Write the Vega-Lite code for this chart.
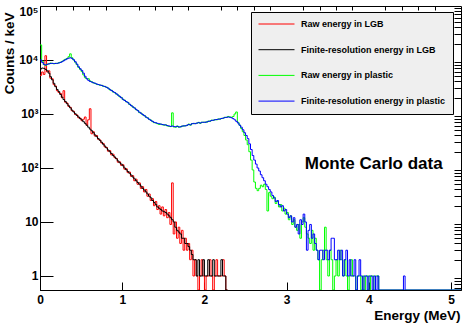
{
  "$schema": "https://vega.github.io/schema/vega-lite/v6.json",
  "width": 421,
  "height": 284,
  "autosize": {"type": "none"},
  "padding": {"left": 40, "top": 6, "right": 2, "bottom": 35},
  "background": "white",
  "config": {
    "font": "Liberation Sans",
    "view": {"stroke": "black", "strokeWidth": 1},
    "axis": {"grid": false, "domainColor": "black", "tickColor": "black", "labelColor": "black", "titleColor": "black", "labelFont": "Liberation Sans", "titleFont": "Liberation Sans", "labelFontWeight": "bold", "titleFontWeight": "bold"},
    "legend": {
      "orient": "none", "legendX": 211, "legendY": 6, "direction": "vertical",
      "fillColor": "#efefef", "strokeColor": "black", "strokeWidth": 1, "padding": 7,
      "symbolType": "stroke", "symbolSize": 1296, "symbolStrokeWidth": 1, "clipHeight": 10,
      "rowPadding": 15.7, "labelOffset": 6, "labelFont": "Liberation Sans", "labelFontSize": 9,
      "labelFontWeight": "bold", "labelColor": "black", "title": null, "labelLimit": 300
    }
  },
  "data": {"values": [
    {"E":0.00,"r":5200,"k":6800,"g":19000,"b":10000},
    {"E":0.02,"r":6000,"k":7100,"g":9500,"b":9000},
    {"E":0.04,"r":5400,"k":7000,"g":8200,"b":8300},
    {"E":0.06,"r":12000,"k":6700,"g":7900,"b":8100},
    {"E":0.08,"r":6000,"k":6300,"g":8400,"b":8300},
    {"E":0.10,"r":6300,"k":5700,"g":8500,"b":8500},
    {"E":0.12,"r":4600,"k":4900,"g":8800,"b":8600},
    {"E":0.14,"r":4500,"k":4300,"g":8600,"b":8700},
    {"E":0.16,"r":3500,"k":3700,"g":8500,"b":8600},
    {"E":0.18,"r":3300,"k":3200,"g":8700,"b":8600},
    {"E":0.20,"r":2700,"k":2850,"g":8600,"b":8700},
    {"E":0.22,"r":2500,"k":2600,"g":8900,"b":8800},
    {"E":0.24,"r":2400,"k":2300,"g":9100,"b":9000},
    {"E":0.26,"r":2000,"k":2050,"g":9400,"b":9300},
    {"E":0.28,"r":2700,"k":1850,"g":9900,"b":9700},
    {"E":0.30,"r":1650,"k":1700,"g":10300,"b":10100},
    {"E":0.32,"r":1600,"k":1550,"g":10700,"b":10500},
    {"E":0.34,"r":1380,"k":1420,"g":11500,"b":10800},
    {"E":0.36,"r":1330,"k":1300,"g":13000,"b":11000},
    {"E":0.38,"r":1150,"k":1180,"g":11000,"b":10700},
    {"E":0.40,"r":1120,"k":1090,"g":10000,"b":10100},
    {"E":0.42,"r":980,"k":1010,"g":9100,"b":9300},
    {"E":0.44,"r":960,"k":940,"g":8200,"b":8400},
    {"E":0.46,"r":850,"k":880,"g":7300,"b":7500},
    {"E":0.48,"r":840,"k":820,"g":6700,"b":6900},
    {"E":0.50,"r":750,"k":775,"g":6100,"b":6400},
    {"E":0.52,"r":800,"k":720,"g":5300,"b":5700},
    {"E":0.54,"r":880,"k":670,"g":4700,"b":5000},
    {"E":0.56,"r":620,"k":620,"g":4500,"b":4500},
    {"E":0.58,"r":780,"k":570,"g":4500,"b":4200},
    {"E":0.60,"r":1250,"k":525,"g":4100,"b":4000},
    {"E":0.62,"r":430,"k":490,"g":3950,"b":3900},
    {"E":0.64,"r":470,"k":450,"g":3750,"b":3800},
    {"E":0.66,"r":390,"k":410,"g":3700,"b":3700},
    {"E":0.68,"r":400,"k":380,"g":3550,"b":3600},
    {"E":0.70,"r":340,"k":350,"g":3520,"b":3500},
    {"E":0.72,"r":330,"k":325,"g":3400,"b":3450},
    {"E":0.74,"r":290,"k":300,"g":3400,"b":3380},
    {"E":0.76,"r":285,"k":275,"g":3250,"b":3300},
    {"E":0.78,"r":245,"k":255,"g":3250,"b":3220},
    {"E":0.80,"r":240,"k":235,"g":3100,"b":3130},
    {"E":0.82,"r":205,"k":215,"g":3020,"b":3000},
    {"E":0.84,"r":210,"k":200,"g":2800,"b":2850},
    {"E":0.86,"r":175,"k":185,"g":2750,"b":2720},
    {"E":0.88,"r":180,"k":170,"g":2550,"b":2600},
    {"E":0.90,"r":155,"k":160,"g":2500,"b":2480},
    {"E":0.92,"r":150,"k":148,"g":2330,"b":2370},
    {"E":0.94,"r":128,"k":135,"g":2250,"b":2230},
    {"E":0.96,"r":130,"k":125,"g":2080,"b":2120},
    {"E":0.98,"r":112,"k":118,"g":2030,"b":2000},
    {"E":1.00,"r":115,"k":110,"g":1850,"b":1880},
    {"E":1.02,"r":95,"k":100,"g":1800,"b":1780},
    {"E":1.04,"r":97,"k":93,"g":1680,"b":1700},
    {"E":1.06,"r":82,"k":86,"g":1640,"b":1620},
    {"E":1.08,"r":84,"k":80,"g":1500,"b":1520},
    {"E":1.10,"r":70,"k":74,"g":1450,"b":1430},
    {"E":1.12,"r":72,"k":68,"g":1340,"b":1360},
    {"E":1.14,"r":58,"k":63,"g":1300,"b":1290},
    {"E":1.16,"r":62,"k":58,"g":1200,"b":1220},
    {"E":1.18,"r":50,"k":54,"g":1160,"b":1150},
    {"E":1.20,"r":53,"k":50,"g":1060,"b":1080},
    {"E":1.22,"r":42,"k":46,"g":1040,"b":1030},
    {"E":1.24,"r":45,"k":42,"g":960,"b":980},
    {"E":1.26,"r":36,"k":39,"g":940,"b":930},
    {"E":1.28,"r":40,"k":36,"g":870,"b":880},
    {"E":1.30,"r":30,"k":33,"g":850,"b":840},
    {"E":1.32,"r":33,"k":30,"g":790,"b":800},
    {"E":1.34,"r":25,"k":28,"g":770,"b":760},
    {"E":1.36,"r":27,"k":25,"g":720,"b":730},
    {"E":1.38,"r":20,"k":23,"g":690,"b":700},
    {"E":1.40,"r":24,"k":21,"g":680,"b":690},
    {"E":1.42,"r":17,"k":19,"g":660,"b":670},
    {"E":1.44,"r":20,"k":18,"g":640,"b":660},
    {"E":1.46,"r":14,"k":17,"g":650,"b":650},
    {"E":1.48,"r":19,"k":16,"g":630,"b":640},
    {"E":1.50,"r":13,"k":15.5,"g":620,"b":630},
    {"E":1.52,"r":17,"k":15,"g":630,"b":625},
    {"E":1.54,"r":12,"k":14,"g":600,"b":610},
    {"E":1.56,"r":15,"k":13,"g":590,"b":600},
    {"E":1.58,"r":9,"k":12,"g":585,"b":590},
    {"E":1.60,"r":53,"k":11,"g":1050,"b":600},
    {"E":1.62,"r":6,"k":10,"g":575,"b":585},
    {"E":1.64,"r":10,"k":8,"g":570,"b":580},
    {"E":1.66,"r":5,"k":7,"g":600,"b":590},
    {"E":1.68,"r":8,"k":6.5,"g":570,"b":575},
    {"E":1.70,"r":4,"k":6,"g":575,"b":580},
    {"E":1.72,"r":7,"k":5,"g":600,"b":595},
    {"E":1.74,"r":3,"k":5,"g":595,"b":605},
    {"E":1.76,"r":5,"k":4,"g":610,"b":600},
    {"E":1.78,"r":3,"k":4,"g":615,"b":620},
    {"E":1.80,"r":4,"k":3.5,"g":650,"b":640},
    {"E":1.82,"r":2,"k":3,"g":620,"b":630},
    {"E":1.84,"r":3,"k":2.5,"g":665,"b":660},
    {"E":1.86,"r":1,"k":2,"g":660,"b":670},
    {"E":1.88,"r":2,"k":2,"g":670,"b":660},
    {"E":1.90,"r":1,"k":1,"g":675,"b":680},
    {"E":1.92,"r":0.55,"k":2,"g":700,"b":690},
    {"E":1.94,"r":1,"k":1,"g":670,"b":680},
    {"E":1.96,"r":2,"k":1,"g":705,"b":700},
    {"E":1.98,"r":1,"k":2,"g":700,"b":705},
    {"E":2.00,"r":0.55,"k":1,"g":710,"b":700},
    {"E":2.02,"r":1,"k":1,"g":705,"b":715},
    {"E":2.04,"r":1,"k":2,"g":740,"b":730},
    {"E":2.06,"r":2,"k":1,"g":735,"b":740},
    {"E":2.08,"r":1,"k":1,"g":770,"b":760},
    {"E":2.10,"r":0.55,"k":2,"g":760,"b":770},
    {"E":2.12,"r":1,"k":1,"g":790,"b":780},
    {"E":2.14,"r":2,"k":1,"g":780,"b":790},
    {"E":2.16,"r":1,"k":1,"g":810,"b":800},
    {"E":2.18,"r":1,"k":1,"g":800,"b":810},
    {"E":2.20,"r":1,"k":2,"g":830,"b":825},
    {"E":2.22,"r":2,"k":1,"g":835,"b":840},
    {"E":2.24,"r":1,"k":1,"g":870,"b":860},
    {"E":2.26,"r":0.55,"k":0.55,"g":865,"b":870},
    {"E":2.28,"r":0.55,"k":0.55,"g":900,"b":880},
    {"E":2.30,"g":880,"b":870},
    {"E":2.32,"g":870,"b":850},
    {"E":2.34,"g":900,"b":820},
    {"E":2.36,"g":1000,"b":780},
    {"E":2.38,"g":1090,"b":730},
    {"E":2.40,"g":700,"b":680},
    {"E":2.42,"g":620,"b":620},
    {"E":2.44,"g":540,"b":570},
    {"E":2.46,"g":470,"b":510},
    {"E":2.48,"g":400,"b":450},
    {"E":2.50,"g":330,"b":400},
    {"E":2.52,"g":270,"b":350},
    {"E":2.54,"g":200,"b":280},
    {"E":2.56,"g":140,"b":220},
    {"E":2.58,"g":92,"b":170},
    {"E":2.60,"g":55,"b":140},
    {"E":2.62,"g":42,"b":118},
    {"E":2.64,"g":38,"b":100},
    {"E":2.66,"g":42,"b":88},
    {"E":2.68,"g":48,"b":75},
    {"E":2.70,"g":45,"b":66},
    {"E":2.72,"g":50,"b":58},
    {"E":2.74,"g":40,"b":50},
    {"E":2.76,"g":16,"b":45},
    {"E":2.78,"g":35,"b":40},
    {"E":2.80,"g":30,"b":36},
    {"E":2.82,"g":27,"b":31},
    {"E":2.84,"g":29,"b":28},
    {"E":2.86,"g":22,"b":24},
    {"E":2.88,"g":24,"b":25},
    {"E":2.90,"g":19,"b":21},
    {"E":2.92,"g":21,"b":19},
    {"E":2.94,"g":16,"b":20},
    {"E":2.96,"g":18,"b":16},
    {"E":2.98,"g":14,"b":17},
    {"E":3.00,"g":15,"b":14},
    {"E":3.02,"g":11,"b":12},
    {"E":3.04,"g":13,"b":13},
    {"E":3.06,"g":9,"b":10},
    {"E":3.08,"g":11,"b":12},
    {"E":3.10,"g":8,"b":8},
    {"E":3.12,"g":7,"b":9},
    {"E":3.14,"g":9,"b":6},
    {"E":3.16,"g":5,"b":11},
    {"E":3.18,"g":10,"b":9},
    {"E":3.20,"g":12,"b":14},
    {"E":3.22,"g":8,"b":10},
    {"E":3.24,"g":6,"b":3},
    {"E":3.26,"g":5,"b":7},
    {"E":3.28,"g":4,"b":9},
    {"E":3.30,"g":7,"b":5},
    {"E":3.32,"g":3,"b":6},
    {"E":3.34,"g":5,"b":4},
    {"E":3.36,"g":3,"b":3},
    {"E":3.38,"g":2,"b":2},
    {"E":3.40,"g":0.55,"b":3},
    {"E":3.42,"g":2,"b":3},
    {"E":3.44,"g":3,"b":2},
    {"E":3.46,"g":8,"b":3},
    {"E":3.48,"g":2,"b":3},
    {"E":3.50,"g":1,"b":2},
    {"E":3.52,"g":3,"b":3},
    {"E":3.54,"g":2,"b":5},
    {"E":3.56,"g":0.55,"b":5},
    {"E":3.58,"g":1,"b":2},
    {"E":3.60,"g":2,"b":2},
    {"E":3.62,"g":1,"b":3},
    {"E":3.64,"g":3,"b":2},
    {"E":3.66,"g":2,"b":3},
    {"E":3.68,"g":1,"b":1},
    {"E":3.70,"g":2,"b":2},
    {"E":3.72,"g":1,"b":3},
    {"E":3.74,"g":0.55,"b":1},
    {"E":3.76,"g":1,"b":2},
    {"E":3.78,"g":2,"b":1},
    {"E":3.80,"g":1,"b":1},
    {"E":3.82,"g":1,"b":2},
    {"E":3.84,"g":0.55,"b":0.55},
    {"E":3.86,"g":1,"b":1},
    {"E":3.88,"g":1,"b":2},
    {"E":3.90,"g":0.55,"b":1},
    {"E":3.92,"g":1,"b":0.55},
    {"E":3.94,"g":0.55,"b":1},
    {"E":3.96,"g":1,"b":1},
    {"E":3.98,"g":1,"b":0.55},
    {"E":4.00,"g":0.55,"b":1},
    {"E":4.02,"g":1,"b":1},
    {"E":4.04,"g":1,"b":0.55},
    {"E":4.06,"g":0.55,"b":1},
    {"E":4.08,"g":1,"b":0.55},
    {"E":4.10,"g":1,"b":1},
    {"E":4.12,"g":0.55,"b":0.55},
    {"E":4.42,"g":0.55,"b":1},
    {"E":4.44,"g":0.55,"b":0.55},
    {"E":5.12,"g":0.55,"b":0.55}
  ]},
  "resolve": {"axis": {"x": "independent", "y": "independent"}},
  "layer": [
    {
      "mark": {"type": "line", "interpolate": "step-after", "strokeWidth": 1, "clip": true},
      "encoding": {
        "x": {"field": "E", "type": "quantitative", "scale": {"domain": [0, 5.12], "nice": false, "zero": false},
          "axis": {"values": [0, 1, 2, 3, 4, 5], "tickSize": -8, "labelPadding": 12, "labelFontSize": 12, "title": "Energy (MeV)", "titleFontSize": 13.5, "titleX": 420, "titleY": 29, "titleAlign": "right", "titleBaseline": "alphabetic", "labelFlush": false}},
        "y": {"field": "r", "type": "quantitative", "scale": {"type": "log", "domain": [0.55, 100000], "nice": false},
          "axis": {"values": [1, 10, 100, 1000, 10000, 100000], "tickSize": -13, "labelPadding": 15, "labelFontSize": 12, "labelFlush": true,
            "labelExpr": "datum.value == 1 ? '1' : datum.value == 10 ? '10' : datum.value == 100 ? '10²' : datum.value == 1000 ? '10³' : datum.value == 10000 ? '10⁴' : '10⁵'",
            "title": "Counts / keV", "titleFontSize": 13.5, "titleX": -27, "titleY": 6, "titleAngle": 270, "titleAlign": "right", "titleBaseline": "alphabetic"}},
        "color": {"datum": "Raw energy in LGB", "type": "nominal",
          "scale": {"domain": ["Raw energy in LGB", "Finite-resolution energy in LGB", "Raw energy in plastic", "Finite-resolution energy in plastic"], "range": ["#ff0000", "#000000", "#00ff00", "#0000ff"]}}
      }
    },
    {
      "mark": {"type": "line", "interpolate": "step-after", "strokeWidth": 1, "clip": true},
      "encoding": {
        "x": {"field": "E", "type": "quantitative", "scale": {"domain": [0, 5.12], "nice": false, "zero": false},
          "axis": {"values": [0.2, 0.4, 0.6, 0.8, 1.2, 1.4, 1.6, 1.8, 2.2, 2.4, 2.6, 2.8, 3.2, 3.4, 3.6, 3.8, 4.2, 4.4, 4.6, 4.8], "tickSize": -4, "labels": false, "domain": false, "title": null}},
        "y": {"field": "k", "type": "quantitative", "scale": {"type": "log", "domain": [0.55, 100000], "nice": false},
          "axis": {"values": [0.6, 0.7, 0.8, 0.9, 2, 3, 4, 5, 6, 7, 8, 9, 20, 30, 40, 50, 60, 70, 80, 90, 200, 300, 400, 500, 600, 700, 800, 900, 2000, 3000, 4000, 5000, 6000, 7000, 8000, 9000, 20000, 30000, 40000, 50000, 60000, 70000, 80000, 90000], "tickSize": -7, "labels": false, "domain": false, "title": null}},
        "color": {"datum": "Finite-resolution energy in LGB", "type": "nominal"}
      }
    },
    {
      "mark": {"type": "line", "interpolate": "step-after", "strokeWidth": 1, "clip": true},
      "encoding": {
        "x": {"field": "E", "type": "quantitative", "scale": {"domain": [0, 5.12], "nice": false, "zero": false}, "axis": null},
        "y": {"field": "g", "type": "quantitative", "scale": {"type": "log", "domain": [0.55, 100000], "nice": false}, "axis": null},
        "color": {"datum": "Raw energy in plastic", "type": "nominal"}
      }
    },
    {
      "mark": {"type": "line", "interpolate": "step-after", "strokeWidth": 1, "clip": true},
      "encoding": {
        "x": {"field": "E", "type": "quantitative", "scale": {"domain": [0, 5.12], "nice": false, "zero": false}, "axis": null},
        "y": {"field": "b", "type": "quantitative", "scale": {"type": "log", "domain": [0.55, 100000], "nice": false}, "axis": null},
        "color": {"datum": "Finite-resolution energy in plastic", "type": "nominal"}
      }
    },
    {
      "data": {"values": [{}]},
      "mark": {"type": "text", "text": "Monte Carlo data", "font": "Liberation Sans", "fontSize": 17, "fontWeight": "bold", "align": "left", "baseline": "alphabetic", "color": "black"},
      "encoding": {
        "x": {"datum": 3.22, "type": "quantitative", "axis": null},
        "y": {"datum": 96, "type": "quantitative", "axis": null}
      }
    }
  ]
}
